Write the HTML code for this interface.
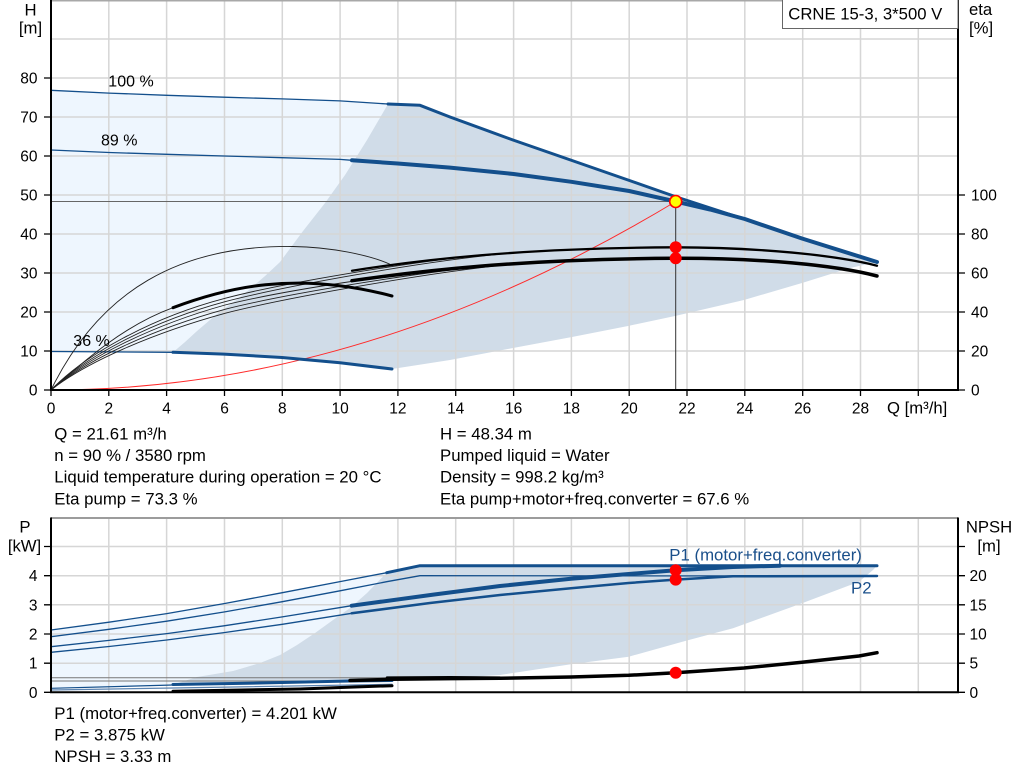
<!DOCTYPE html>
<html><head><meta charset="utf-8"><style>
html,body{margin:0;padding:0;background:#fff;}
svg{display:block;}
text{font-family:"Liberation Sans",Arial,sans-serif;fill:#000;}
</style></head><body>
<svg width="1024" height="781" viewBox="0 0 1024 781" xmlns="http://www.w3.org/2000/svg">
<rect width="1024" height="781" fill="#fff"/>

<!-- ============ TOP CHART ============ -->
<path d="M51,90.3 L109,93.1 L167,95.3 L224,97.2 L282,98.9 L340,100.9 L388,104 L367,140 L345,175 L325,203 L303,231 L280,262 L265,276 L250,289 L235,301 L217,314 L197,331 L185,342 L173,352.3 L51,351.5 Z" fill="#eef6fe"/>
<path d="M173,352.3 L185,342 L197,331 L217,314 L235,301 L250,289 L265,276 L280,262 L303,231 L325,203 L345,175 L367,140 L388,104 L420,105.3 L450,117 L513,140 L572,160.5 L628,180 L675,196.5 L744,219 L802,238.5 L877,262 L850,268 L802,283 L744,300 L675,316 L628,326 L572,337 L513,348 L450,360 L392,369 L340,363.3 L282,357.3 L224,354.3 Z" fill="#d0dce8"/>

<path d="M108.8,0V390M166.6,0V390M224.5,0V390M282.3,0V390M340.1,0V390M397.9,0V390M455.7,0V390M513.6,0V390M571.4,0V390M629.2,0V390M687,0V390M744.8,0V390M802.7,0V390M860.5,0V390M918.3,0V390
M51,39H958M51,78H958M51,117H958M51,156H958M51,195H958M51,234H958M51,273H958M51,312H958M51,351H958" stroke="#d6d6d6" stroke-width="1.5" fill="none"/>
<path d="M51,0.8H958" stroke="#a8a8a8" stroke-width="1.5"/>

<path d="M51,201.5H675.7" stroke="#666" stroke-width="1"/>
<path d="M675.7,201.5V390" stroke="#333" stroke-width="1"/>

<path d="M51,390 Q363,390 675.7,201.5" stroke="#ff2a2a" stroke-width="1" fill="none"/>

<g fill="none" stroke="#134f8c" stroke-linejoin="round" stroke-linecap="round">
<path d="M51,90.3 L109,93.1 L167,95.3 L224,97.2 L282,98.9 L340,100.9 L388,104" stroke-width="1.3"/>
<path d="M388,104 L420,105.3 L450,117 L513,140 L572,160.5 L628,180 L675,196.5 L744,219 L802,238.5 L877,262" stroke-width="3"/>
<path d="M51,150 L109,152.5 L167,154.3 L224,156 L282,157.7 L340,159.4 L352,160.3" stroke-width="1.3"/>
<path d="M352,160.3 L397.7,163.5 L450,167.6 L513.6,174 L571.4,181.8 L629.2,191 L675.7,201.5 L710,209.5 L744.8,219 L802,238.5 L877,262" stroke-width="4"/>
<path d="M51,351.5 L173,352.3" stroke-width="1.3"/>
<path d="M173,352.3 L224,354.1 L282,357.5 L340,362.8 L392,369" stroke-width="3"/>
</g>

<g fill="none" stroke="#222" stroke-width="0.9">
<path d="M51,390 C100,290 180,245 293,246.5 C330,247 370,255 390,264.3"/>
<path d="M51,390 C85,360 125,325 173,307.7"/>
<path d="M51,390 C85,355 150,318 225,298.3 C285,282.5 400,264 470,256.3"/>
<path d="M51,390 C85,357 150,322 225,301.7 C285,286 420,262 500,254.2"/>
<path d="M51,390 C85,359 150,326 225,305 C285,290 400,273 470,267"/>
<path d="M51,390 C85,361 150,330 225,309.3 C285,294 420,272 500,264.5"/>
<path d="M51,390 C85,363 150,334 225,313.3 C285,298 440,270 530,262.5"/>
</g>
<g fill="none" stroke="#000" stroke-linecap="round">
<path d="M173,307.7 C225,288 295,270 392,296" stroke-width="3"/>
<path d="M352,270.7 C420,260 520,248 675,247.3 C760,247.5 835,255 877,265.7" stroke-width="2.3"/>
<path d="M352,280.7 C420,271 520,259 675,258.3 C760,258 835,265 877,276" stroke-width="3.5"/>
</g>

<g stroke="#000" stroke-width="2" fill="none">
<path d="M51,0V391"/>
<path d="M958,0V391"/>
<path d="M50,390H959"/>
</g>
<g stroke="#000" stroke-width="1.3" fill="none">
<path d="M44,390H51M44,351H51M44,312H51M44,273H51M44,234H51M44,195H51M44,156H51M44,117H51M44,78H51"/>
<path d="M958,390H965M958,351H965M958,312H965M958,273H965M958,234H965M958,195H965"/>
<path d="M51,390V396M108.8,390V396M166.6,390V396M224.5,390V396M282.3,390V396M340.1,390V396M397.9,390V396M455.7,390V396M513.6,390V396M571.4,390V396M629.2,390V396M687,390V396M744.8,390V396M802.7,390V396M860.5,390V396M918.3,390V396"/>
</g>

<circle cx="675.7" cy="247.3" r="6" fill="#ff0000"/>
<circle cx="675.7" cy="258.3" r="6" fill="#ff0000"/>
<circle cx="675.7" cy="201.5" r="6" fill="#ffff00" stroke="#ff0000" stroke-width="1.6"/>

<rect x="782.5" y="-1" width="175.5" height="29.5" fill="#fff" stroke="#666" stroke-width="1"/>
<text x="788.3" y="19.5" font-size="16.7">CRNE 15-3, 3*500 V</text>

<text x="30.5" y="15.5" font-size="16.7" text-anchor="middle">H</text>
<text x="30.5" y="33.5" font-size="16.7" text-anchor="middle">[m]</text>
<text x="969" y="15" font-size="16.7">eta</text>
<text x="969" y="33.5" font-size="16.7">[%]</text>
<g font-size="15.5" text-anchor="end">
<text x="37.5" y="83.5">80</text>
<text x="37.5" y="122.5">70</text>
<text x="37.5" y="161.5">60</text>
<text x="37.5" y="200.5">50</text>
<text x="37.5" y="239.5">40</text>
<text x="37.5" y="278.5">30</text>
<text x="37.5" y="317.5">20</text>
<text x="37.5" y="356.5">10</text>
<text x="37.5" y="395.5">0</text>
</g>
<g font-size="15.5">
<text x="971" y="200.5">100</text>
<text x="971" y="239.5">80</text>
<text x="971" y="278.5">60</text>
<text x="971" y="317.5">40</text>
<text x="971" y="356.5">20</text>
<text x="971" y="395.5">0</text>
</g>
<g font-size="15.5" text-anchor="middle">
<text x="51" y="413.5">0</text>
<text x="108.8" y="413.5">2</text>
<text x="166.6" y="413.5">4</text>
<text x="224.5" y="413.5">6</text>
<text x="282.3" y="413.5">8</text>
<text x="340.1" y="413.5">10</text>
<text x="397.9" y="413.5">12</text>
<text x="455.7" y="413.5">14</text>
<text x="513.6" y="413.5">16</text>
<text x="571.4" y="413.5">18</text>
<text x="629.2" y="413.5">20</text>
<text x="687" y="413.5">22</text>
<text x="744.8" y="413.5">24</text>
<text x="802.7" y="413.5">26</text>
<text x="860.5" y="413.5">28</text>
</g>
<text x="887" y="413.5" font-size="16.7">Q [m³/h]</text>
<g font-size="16">
<text x="108.3" y="86.7">100 %</text>
<text x="101" y="145.7">89 %</text>
<text x="73.3" y="346">36 %</text>
</g>

<g font-size="16.8">
<text x="54.3" y="439.3">Q = 21.61 m³/h</text>
<text x="54.3" y="461">n = 90 % / 3580 rpm</text>
<text x="54.3" y="482.5">Liquid temperature during operation = 20 °C</text>
<text x="54.3" y="504.3">Eta pump = 73.3 %</text>
<text x="440" y="439.3">H = 48.34 m</text>
<text x="440" y="461">Pumped liquid = Water</text>
<text x="440" y="482.5">Density = 998.2 kg/m³</text>
<text x="440" y="504.3">Eta pump+motor+freq.converter = 67.6 %</text>
</g>

<!-- ============ BOTTOM CHART ============ -->
<path d="M51,630 L109,622.2 L166.7,613.6 L224,603.6 L282.3,592.7 L340,581.6 L386.7,572.7 L367,593 L350,608 L333,620 L315,633 L297,645 L280,655 L260,663 L233,671 L197,677 L173,684.5 L51,688.3 Z" fill="#eef6fe"/>
<path d="M173,684.5 L197,677 L233,671 L260,663 L280,655 L297,645 L315,633 L333,620 L350,608 L367,593 L386.7,572.7 L420,565.7 L877,565.7 L873,570 L859,581.7 L802,603.3 L733,628.3 L686,640.7 L628.7,656.7 L571,664.3 L500,675 L450,678 L392,681 Z" fill="#d0dce8"/>

<path d="M108.8,518V692M166.6,518V692M224.5,518V692M282.3,518V692M340.1,518V692M397.9,518V692M455.7,518V692M513.6,518V692M571.4,518V692M629.2,518V692M687,518V692M744.8,518V692M802.7,518V692M860.5,518V692M918.3,518V692
M51,546.5H958M51,575.7H958M51,604.8H958M51,634H958M51,663.2H958" stroke="#d6d6d6" stroke-width="1.5" fill="none"/>
<path d="M51,518H958" stroke="#9c9c9c" stroke-width="2"/>

<path d="M51,677.7H387M51,681H352" stroke="#777" stroke-width="1" fill="none"/>

<g fill="none" stroke="#134f8c" stroke-linejoin="round" stroke-linecap="round">
<path d="M51,630 L109,622.2 L166.7,613.6 L224,603.6 L282.3,592.7 L340,581.6 L386.7,572.7" stroke-width="1.3"/>
<path d="M386.7,572.7 L420,565.7 L877,565.7" stroke-width="3"/>
<path d="M51,636.7 L109,629.3 L166.7,621.2 L224,612 L282.3,601.7 L340,590.8 L386.7,581.7 L420,575.7 L877,576" stroke-width="1.3"/>
<path d="M51,646.7 L109,640.4 L166.7,633.6 L224,625.8 L282.3,616.9 L351.7,605.7" stroke-width="1.3"/>
<path d="M351.7,605.7 L433.3,594.6 L500,586 L571,578.8 L628.7,574 L675.7,570.2 L733,567 L780,565.7" stroke-width="4"/>
<path d="M51,652.3 L109,646.5 L166.7,640 L224,632.6 L282.3,624.3 L351.7,613.3" stroke-width="1.3"/>
<path d="M351.7,613.3 L430,603 L500,595 L571,588.3 L628.7,583 L675.7,579.6 L733,576.3 L877,576" stroke-width="2.5"/>
<path d="M51,688.3 L173,685" stroke-width="1.2"/>
<path d="M173,684.5 L260,683 L350,681 L392,680.5" stroke-width="3"/>
<path d="M51,690 L173,688 L392,684.3" stroke-width="1.3" stroke="#5b83b0"/>
</g>
<g fill="none" stroke="#000" stroke-linecap="round" stroke-linejoin="round">
<path d="M173,691.2 L300,689 L392,685.7" stroke-width="3"/>
<path d="M350,680.5 L392,679.3 L450,678.6 L500,678.3 L571,677 L628.7,675.3 L675.7,672.7 L744,668 L802,662.2 L859,656 L877,652.7" stroke-width="3.5"/>
<path d="M387,677.6 L450,677.3 L500,677.6" stroke-width="2.5"/>
</g>

<g stroke="#000" stroke-width="2" fill="none">
<path d="M51,517.5V693"/>
<path d="M958,517.5V693"/>
<path d="M50,692.3H959"/>
</g>
<g stroke="#000" stroke-width="1.3" fill="none">
<path d="M44,692.3H51M44,663.2H51M44,634H51M44,604.8H51M44,575.7H51M44,546.5H51"/>
<path d="M958,692.3H965M958,663.2H965M958,634H965M958,604.8H965M958,575.7H965M958,546.5H965"/>
</g>

<circle cx="675.7" cy="570.2" r="6" fill="#ff0000"/>
<circle cx="675.7" cy="579.6" r="6" fill="#ff0000"/>
<circle cx="675.7" cy="672.7" r="6" fill="#ff0000"/>

<text x="669.3" y="560.3" font-size="16.8" style="fill:#1a4f8a">P1 (motor+freq.converter)</text>
<text x="851" y="593.5" font-size="16.8" style="fill:#1a4f8a">P2</text>

<text x="25" y="532.7" font-size="16.7" text-anchor="middle">P</text>
<text x="24.5" y="551.5" font-size="16.7" text-anchor="middle">[kW]</text>
<text x="989" y="532.7" font-size="16.7" text-anchor="middle">NPSH</text>
<text x="989" y="551.5" font-size="16.7" text-anchor="middle">[m]</text>
<g font-size="15.5" text-anchor="end">
<text x="37.5" y="581.2">4</text>
<text x="37.5" y="610.3">3</text>
<text x="37.5" y="639.5">2</text>
<text x="37.5" y="668.7">1</text>
<text x="37.5" y="697.8">0</text>
</g>
<g font-size="15.5">
<text x="969.5" y="581.2">20</text>
<text x="969.5" y="610.3">15</text>
<text x="969.5" y="639.5">10</text>
<text x="969.5" y="668.7">5</text>
<text x="969.5" y="697.8">0</text>
</g>

<g font-size="16.8">
<text x="54.3" y="719">P1 (motor+freq.converter) = 4.201 kW</text>
<text x="54.3" y="740.5">P2 = 3.875 kW</text>
<text x="54.3" y="762">NPSH = 3.33 m</text>
</g>
</svg>
</body></html>
